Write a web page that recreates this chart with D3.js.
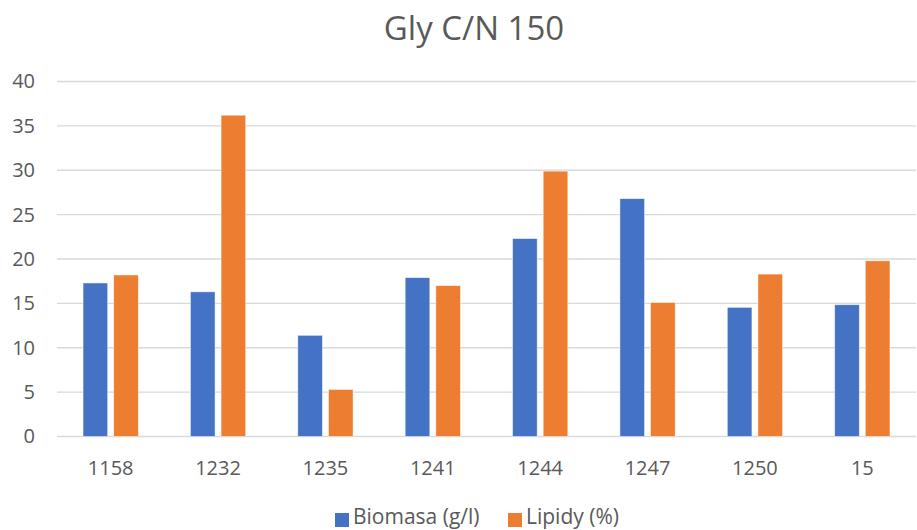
<!DOCTYPE html>
<html lang="en">
<head>
  <meta charset="UTF-8">
  <title>Gly C/N 150</title>
  <script src="https://d3js.org/d3.v7.min.js"></script>
  <style>
    body {
      margin: 0;
      font-family: "Open Sans", sans-serif;
      background: #fff;
    }
  </style>
</head>
<body>

<svg width="917" height="530"></svg>

<script>

  const categories = ["1158", "1232", "1235", "1241", "1244", "1247", "1250", "15"];
  const biomasa = [17.3, 16.3, 11.4, 17.9, 22.3, 26.8, 14.55, 14.85];
  const lipidy = [18.2, 36.2, 5.3, 17.0, 29.9, 15.1, 18.3, 19.8];
  const yTicks = [0, 5, 10, 15, 20, 25, 30, 35, 40];
  const seriesNames = ["Biomasa (g/l)", "Lipidy (%)"];
  const colors = ["#4472c4", "#ed7d31"];

  const svg = d3.select("svg");
  const width = +svg.attr("width");
  const height = +svg.attr("height");
  const margin = { top: 81.5, right: 1, bottom: 93.5, left: 57 };
  const font = "'Open Sans', sans-serif";

  const x = d3.scaleBand()
    .domain(categories)
    .range([margin.left, width - margin.right]);

  const x1 = d3.scaleBand()
    .domain([0, 1])
    .range([0, x.bandwidth()])
    .paddingInner(0.196)
    .paddingOuter(0.85);

  const y = d3.scaleLinear()
    .domain([0, 40])
    .range([height - margin.bottom, margin.top]);

  // gridlines
  svg.append("g")
    .selectAll("line")
    .data(yTicks)
    .enter()
    .append("line")
    .attr("x1", margin.left)
    .attr("x2", width - margin.right)
    .attr("y1", d => y(d))
    .attr("y2", d => y(d))
    .attr("stroke", "#d9d9d9")
    .attr("stroke-width", 1.3);

  // y axis labels
  const yAxis = d3.axisLeft(y).tickValues(yTicks).tickSize(0).tickPadding(22);
  const gy = svg.append("g")
    .attr("transform", `translate(${margin.left},0)`)
    .call(yAxis);
  gy.select(".domain").remove();
  gy.selectAll("text")
    .attr("font-family", font)
    .attr("font-size", 20)
    .attr("fill", "#595959");

  // x axis labels
  const xAxis = d3.axisBottom(x).tickSize(0).tickPadding(24);
  const gx = svg.append("g")
    .attr("transform", `translate(0,${y(0)})`)
    .call(xAxis);
  gx.select(".domain").remove();
  gx.selectAll("text")
    .attr("font-family", font)
    .attr("font-size", 20)
    .attr("fill", "#595959");

  // bars
  const series = [biomasa, lipidy];
  series.forEach((vals, si) => {
    svg.append("g")
      .selectAll("rect")
      .data(vals)
      .enter()
      .append("rect")
      .attr("x", (d, i) => x(categories[i]) + x1(si))
      .attr("width", x1.bandwidth())
      .attr("y", d => y(d))
      .attr("height", d => y(0) - y(d))
      .attr("fill", colors[si])
      .attr("stroke", "#fff")
      .attr("stroke-opacity", 0.6)
      .attr("stroke-width", 0.8);
  });

  // title
  svg.append("text")
    .attr("x", 474)
    .attr("y", 40)
    .attr("text-anchor", "middle")
    .attr("font-family", font)
    .attr("font-size", 33)
    .attr("fill", "#595959")
    .text("Gly C/N 150");

  // legend
  const legendX = [335, 508];
  seriesNames.forEach((name, i) => {
    const g = svg.append("g").attr("transform", `translate(${legendX[i]},0)`);
    g.append("rect")
      .attr("x", 0)
      .attr("y", 513)
      .attr("width", 14)
      .attr("height", 14)
      .attr("fill", colors[i]);
    g.append("text")
      .attr("x", 18)
      .attr("y", 524)
      .attr("font-family", font)
      .attr("font-size", 21)
      .attr("fill", "#595959")
      .text(name);
  });

</script>

</body>
</html>
